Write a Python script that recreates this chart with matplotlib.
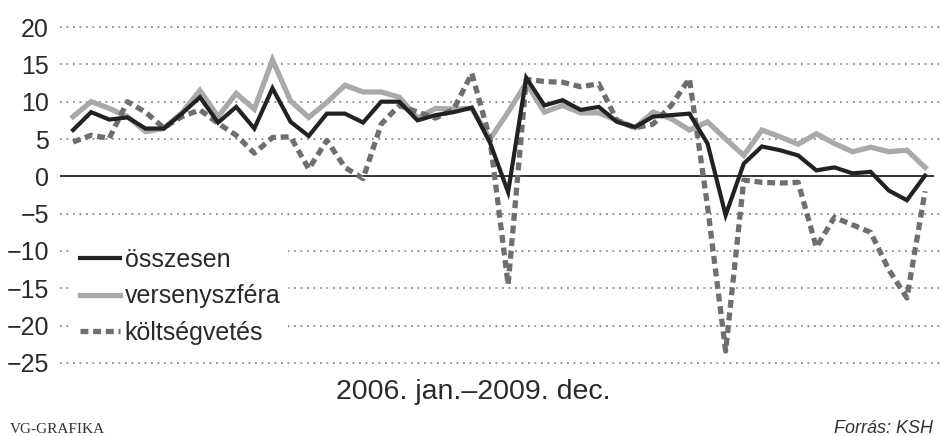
import matplotlib
matplotlib.use("Agg")
import matplotlib.pyplot as plt
import numpy as np

plt.rcParams['font.family'] = ['Liberation Sans Narrow', 'Liberation Sans', 'DejaVu Sans']

# havi adatok, 2006. jan. - 2009. dec. (%)
honapok = np.arange(48)
osszesen = [6.2, 8.6, 7.6, 7.9, 6.4, 6.4, 8.4, 10.6, 7.2, 9.3, 6.4, 11.8,
            7.3, 5.4, 8.4, 8.4, 7.2, 10.0, 10.0, 7.5, 8.2, 8.6, 9.2, 4.5,
            -2.1, 13.2, 9.5, 10.2, 8.9, 9.3, 7.3, 6.6, 8.0, 8.2, 8.4, 4.4,
            -5.2, 1.7, 4.0, 3.5, 2.8, 0.8, 1.2, 0.4, 0.6, -1.9, -3.2, 0.1]
versenyszfera = [8.0, 10.0, 9.1, 8.0, 6.0, 6.4, 8.5, 11.5, 8.0, 11.1, 9.0, 15.6,
                 10.1, 7.9, 9.9, 12.2, 11.3, 11.3, 10.6, 7.8, 9.1, 9.0, 9.1, 5.0,
                 8.6, 12.5, 8.6, 9.5, 8.5, 8.5, 7.5, 6.5, 8.6, 7.7, 6.2, 7.3,
                 5.0, 2.8, 6.2, 5.3, 4.3, 5.7, 4.4, 3.3, 3.9, 3.3, 3.5, 1.2]
koltsegvetes = [4.6, 5.5, 5.1, 10.0, 8.6, 6.5, 8.0, 8.9, 7.1, 5.5, 3.1, 5.2,
                5.3, 1.0, 4.8, 1.2, -0.3, 7.0, 9.5, 8.6, 7.8, 9.0, 13.8, 5.0,
                -14.5, 13.0, 12.7, 12.6, 12.0, 12.4, 7.5, 6.5, 7.0, 9.5, 13.1, -4.0,
                -23.4, -0.5, -0.8, -0.9, -0.8, -9.5, -5.5, -6.5, -7.5, -12.5, -16.3, -2.0]
yticks = [20, 15, 10, 5, 0, -5, -10, -15, -20, -25]

fig = plt.figure(figsize=(9.41, 4.36), dpi=100)
fig.patch.set_facecolor('white')
ax = fig.add_axes([60/941, 1-370/436, 881/941, 350/436])

ax.set_xlim(-0.72, 47.88)
ax.set_ylim(-25.94, 20.94)

# dotted gridlines, solid zero line
for v in yticks:
    if v != 0:
        ax.axhline(v, color='#8a8a8a', lw=1.3, ls=(0, (1, 2.6)), zorder=1)
ax.axhline(0, xmin=0, xmax=873/881, color='#333333', lw=1.4, zorder=2)

ax.plot(honapok, versenyszfera, color='#a9a9a9', lw=3.8, solid_joinstyle='miter',
        label='versenyszféra', zorder=3)
ax.plot(honapok, koltsegvetes, color='#6f6f6f', lw=3.8, dashes=(1.5, 0.9),
        label='költségvetés', zorder=4)
ax.plot(honapok, osszesen, color='#222222', lw=3.0, solid_joinstyle='miter',
        label='összesen', zorder=5)

ax.set_yticks(yticks)
ax.set_yticklabels([str(v).replace('-', '\u2212') for v in yticks])
ax.tick_params(axis='y', length=0, pad=8, labelsize=18, labelcolor='#2a2a2a')
ax.set_xticks([])
for s in ax.spines.values():
    s.set_visible(False)

h, l = ax.get_legend_handles_labels()
order = [2, 0, 1]
leg = ax.legend([h[i] for i in order], [l[i] for i in order],
                loc='upper left', bbox_to_anchor=(0.014, 0.371), fontsize=18,
                handlelength=1.6, handletextpad=0.2, labelspacing=0.51,
                borderpad=0.3, borderaxespad=0, frameon=True, fancybox=False)
leg.get_frame().set_facecolor('white')
leg.get_frame().set_edgecolor('none')
leg.get_frame().set_alpha(1)
leg.set_zorder(6)
for t in leg.get_texts():
    t.set_color('#2a2a2a')

fig.text(473/941, 1-392/436, '2006. jan.\u20132009. dec.', ha='center', va='center',
         fontsize=20.5, color='#2a2a2a')
fig.text(10/941, 1-429/436, 'VG-GRAFIKA', ha='left', va='center',
         fontsize=11, color='#333333', family=['Liberation Serif', 'DejaVu Serif'])
fig.text(933/941, 1-428/436, 'Forrás: KSH', ha='right', va='center',
         fontsize=13, style='italic', color='#333333')

fig.savefig('out.png', dpi=100, facecolor='white')
